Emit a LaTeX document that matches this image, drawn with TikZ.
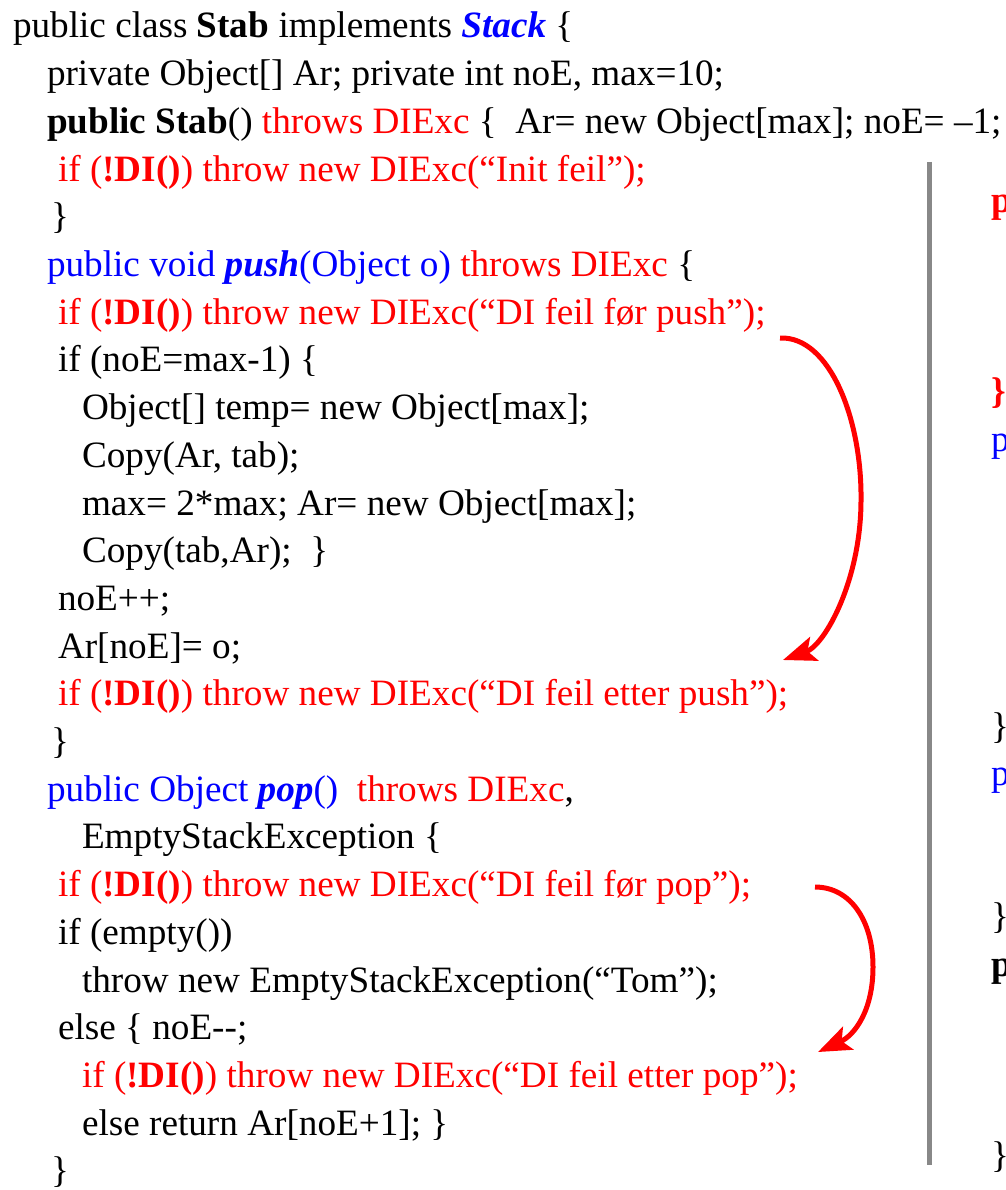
\documentclass[tikz,border=0pt]{standalone}
\usepackage{fontspec}
\setmainfont{Liberation Serif}
\usetikzlibrary{arrows.meta}
\definecolor{codered}{RGB}{255,0,0}
\definecolor{codeblue}{RGB}{0,0,255}
\definecolor{rulegray}{RGB}{136,136,136}
\newcommand{\cRed}[1]{\textcolor{codered}{#1}}
\newcommand{\cBlue}[1]{\textcolor{codeblue}{#1}}
\newcommand{\bi}[1]{\textbf{\textit{#1}}}
\begin{document}
\begin{tikzpicture}[x=1pt,y=-1pt,
  codeline/.style={anchor=base west, inner sep=0pt, outer sep=0pt,
    font=\fontsize{37.2}{47.7}\selectfont},
  flow/.style={draw=codered, line width=5pt,
    -{Stealth[length=33pt,width=25pt,inset=7pt]}}]
\useasboundingbox (0,0) rectangle (1005,1190);

% class header and fields
\node[codeline] (l1) at (13,38) {public class \textbf{Stab} implements \cBlue{\bi{Stack}} \{};
\node[codeline] (l2) at (47,85.7) {private Object[] Ar; private int noE, max=10;};
\node[codeline] (l3) at (47,133.4) {\textbf{public Stab}() \cRed{throws DIExc} \{\ \ Ar= new Object[max]; noE= –1;};
\node[codeline] (l4) at (58,181.1) {\cRed{if (\textbf{!DI()}) throw new DIExc(“Init feil”);}};
\node[codeline] (l5) at (51,228.8) {\}};

% push
\node[codeline] (l6) at (47,276.5) {\cBlue{public void \bi{push}(Object o)} \cRed{throws DIExc} \{};
\node[codeline] (l7) at (58,324.2) {\cRed{if (\textbf{!DI()}) throw new DIExc(“DI feil før push”);}};
\node[codeline] (l8) at (58,371.9) {if (noE=max-1) \{};
\node[codeline] (l9) at (82,419.6) {Object[] temp= new Object[max];};
\node[codeline] (l10) at (82,467.3) {Copy(Ar, tab);};
\node[codeline] (l11) at (82,515) {max= 2*max; Ar= new Object[max];};
\node[codeline] (l12) at (82,562.7) {Copy(tab,Ar);\ \ \}};
\node[codeline] (l13) at (58,610.4) {noE++;};
\node[codeline] (l14) at (58,658.1) {Ar[noE]= o;};
\node[codeline] (l15) at (58,705.8) {\cRed{if (\textbf{!DI()}) throw new DIExc(“DI feil etter push”);}};
\node[codeline] (l16) at (51,753.5) {\}};

% pop
\node[codeline] (l17) at (47,801.2) {\cBlue{public Object \bi{pop}()}\ \ \cRed{throws DIExc},};
\node[codeline] (l18) at (82,848.9) {EmptyStackException \{};
\node[codeline] (l19) at (58,896.6) {\cRed{if (\textbf{!DI()}) throw new DIExc(“DI feil før pop”);}};
\node[codeline] (l20) at (58,944.3) {if (empty())};
\node[codeline] (l21) at (82,992) {throw new EmptyStackException(“Tom”);};
\node[codeline] (l22) at (58,1039.7) {else \{ noE-{}-;};
\node[codeline] (l23) at (82,1087.4) {\cRed{if (\textbf{!DI()}) throw new DIExc(“DI feil etter pop”);}};
\node[codeline] (l24) at (82,1135.1) {else return Ar[noE+1]; \}};
\node[codeline] (l25) at (51,1182.8) {\}};

% divider to the second column
\coordinate (divtop) at (929,162);
\coordinate (divbot) at (929,1165);
\draw[rulegray, line width=5pt] (divtop) -- (divbot);

% edge of the second column
\node[codeline] (r1) at (991,213) {\cRed{\textbf{p}}};
\node[codeline] (r2) at (991,403.8) {\cRed{\textbf{\}}}};
\node[codeline] (r3) at (991,451.5) {\cBlue{p}};
\node[codeline] (r4) at (991,738) {\}};
\node[codeline] (r5) at (991,785.4) {\cBlue{p}};
\node[codeline] (r6) at (991,928.5) {\}};
\node[codeline] (r7) at (991,976.2) {\textbf{p}};
\node[codeline] (r8) at (991,1167) {\}};

% checks before and after push
\coordinate (a1s) at (780,338);
\coordinate (a1m) at (861,500);
\coordinate (a1e) at (783,660);
\draw[flow] (a1s) .. controls (830,336) and (862,420) .. (a1m)
                  .. controls (861,580) and (825,645) .. (a1e);

% checks before and after pop
\coordinate (a2s) at (815,887);
\coordinate (a2m) at (873,967);
\coordinate (a2e) at (818,1052);
\draw[flow] (a2s) .. controls (850,887) and (873,920) .. (a2m)
                  .. controls (873,1010) and (855,1035) .. (a2e);
\end{tikzpicture}
\end{document}
